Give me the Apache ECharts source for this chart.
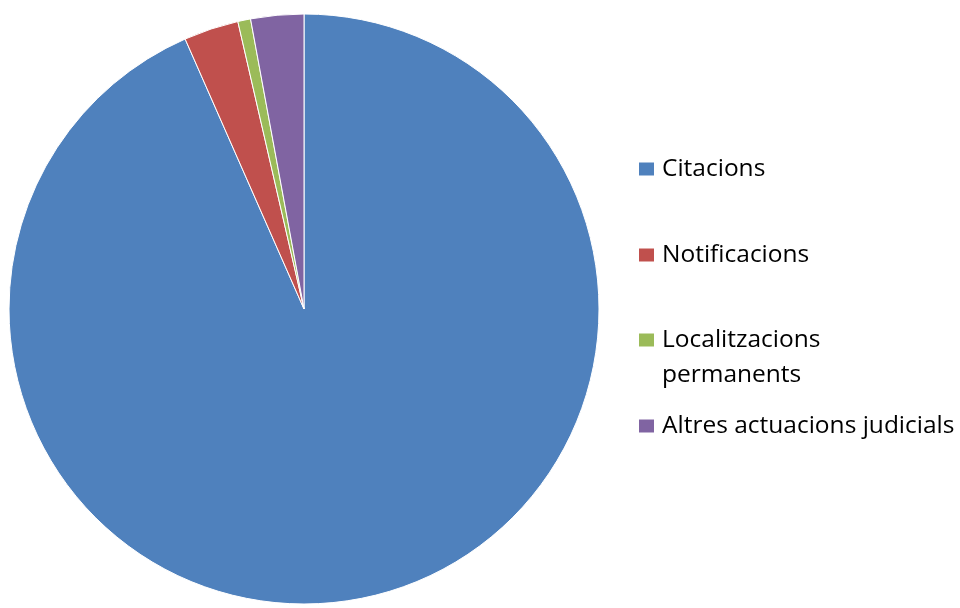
<!DOCTYPE html>
<html>
<head>
<meta charset="utf-8">
<script src="https://cdn.jsdelivr.net/npm/echarts@6/dist/echarts.min.js"></script>
<style>html,body{margin:0;padding:0;background:#fff}#c{width:960px;height:608px}</style>
</head>
<body>
<div id="c"></div>
<script>
const categories = ['Citacions', 'Notificacions', 'Localitzacions permanents', 'Altres actuacions judicials'];
const values = [93.4, 3.0, 0.7, 2.9];
const colors = ['#4F81BD', '#C0504D', '#9BBB59', '#8064A2'];
const legendLabels = ['Citacions', 'Notificacions', '\nLocalitzacions\npermanents', 'Altres actuacions judicials'];

const font = '"Open Sans", Lato, sans-serif';
const markerY = [169, 255, 340, 426];
const legends = categories.map((name, i) => {
  const lines = legendLabels[i].split('\n').length;
  const lh = 35;
  const h = lines > 1 ? lh * lines : 30;
  return {
    data: [name],
    left: 637,
    top: markerY[i] - h / 2,
    orient: 'vertical',
    icon: 'rect',
    itemWidth: 17,
    itemHeight: 15,
    padding: 0,
    formatter: () => legendLabels[i],
    textStyle: {
      fontFamily: font,
      fontSize: 24.5,
      color: '#000',
      lineHeight: lines > 1 ? lh : 30,
      padding: [0, 0, 0, 2]
    },
    selectedMode: false
  };
});

const chart = echarts.init(document.getElementById('c'), null, {renderer: 'canvas'});
chart.setOption({
  animation: false,
  color: colors,
  legend: legends,
  series: [{
    type: 'pie',
    center: [304, 309],
    radius: 295,
    startAngle: 90,
    clockwise: true,
    label: {show: false},
    labelLine: {show: false},
    emphasis: {disabled: true},
    itemStyle: {borderColor: '#fff', borderWidth: 1},
    data: categories.map((n, i) => ({name: n, value: values[i]}))
  }]
});
</script>
</body>
</html>
